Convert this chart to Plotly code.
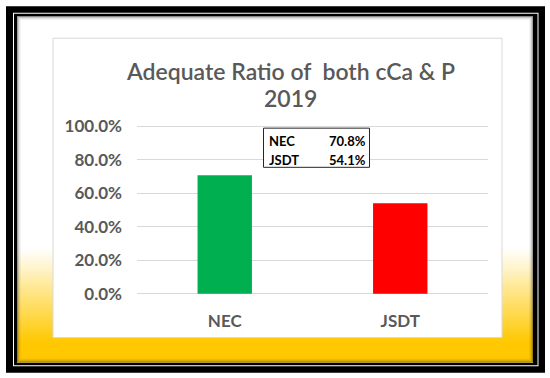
import plotly.graph_objects as go

# ---- data ----
categories = ["NEC", "JSDT"]
values = [0.708, 0.541]
bar_colors = ["#00B050", "#FF0000"]
title_lines = ["Adequate Ratio of  both cCa & P", "2019"]
y_ticks = [0, 0.2, 0.4, 0.6, 0.8, 1.0]

W, H = 550, 378
PL, PR = 137, 488
pad = 0.02
PPU = 166.67
PT = 126.7 - pad * PPU
PB = 293.3 + pad * PPU

def px(x):
    return (x - PL) / (PR - PL)
def py(y):
    return (PB - y) / (PB - PT)

FONT = "Lato"
GREY = "#595959"

fig = go.Figure()
fig.add_trace(go.Bar(
    x=categories, y=values, marker=dict(color=bar_colors, line=dict(width=0)),
    width=0.31, hoverinfo="skip"))

shapes = []
def rect(x0, y0, x1, y1, fill="rgba(0,0,0,0)", line=None, layer="below"):
    shapes.append(dict(type="rect", xref="paper", yref="paper", x0=px(x0), x1=px(x1), y0=py(y1), y1=py(y0),
                       fillcolor=fill, line=line if line else dict(width=0), layer=layer))

# outer frame
rect(6, 7, 545, 372, "black")
rect(13, 13.5, 538.5, 365.5, "white")
rect(14, 14.5, 537.5, 364.5, "black")
# interior white
rect(17, 17, 533, 362, "white")
# gradient white -> gold
top, bot = 248, 342
n = 47
c0 = (255, 255, 255)
c1 = (255, 200, 0)
for i in range(n):
    t = (i + 0.5) / n
    col = tuple(round(c0[k] + (c1[k] - c0[k]) * t) for k in range(3))
    y0 = top + (bot - top) * i / n
    y1 = top + (bot - top) * (i + 1) / n + 0.6
    rect(17, y0, 533, y1, "rgb(%d,%d,%d)" % col)
rect(17, bot, 533, 362, "rgb(255,200,0)")
# inner shadow near frame
for k, a in enumerate([0.45, 0.25, 0.12, 0.05]):
    rect(17.5 + k, 17.5 + k, 532.5 - k, 361.5 - k, line=dict(width=1, color="rgba(40,40,40,%.2f)" % a))
# inner chart box
rect(53, 39, 502, 337, "white", line=dict(width=1, color="#D9D9D9"))
# data table box
rect(263.5, 128.5, 369.5, 167.5, "white", line=dict(width=1, color="#262626"), layer="above")

annotations = []
for txt, yy in zip(title_lines, [72, 98]):
    annotations.append(dict(xref="paper", yref="paper", x=px(290), y=py(yy), text=txt, showarrow=False,
                            xanchor="center", yanchor="middle",
                            font=dict(family=FONT, size=23, color=GREY, weight=600)))
row_y = [141, 160]
for i, (c, v) in enumerate(zip(categories, values)):
    annotations.append(dict(xref="paper", yref="paper", x=px(267), y=py(row_y[i]), text="<b>%s</b>" % c,
                            showarrow=False, xanchor="left", yanchor="middle",
                            font=dict(family=FONT, size=13, color="black")))
    annotations.append(dict(xref="paper", yref="paper", x=px(368), y=py(row_y[i]), text="<b>%.1f%%</b>" % (v * 100),
                            showarrow=False, xanchor="right", yanchor="middle",
                            font=dict(family=FONT, size=13, color="black")))

fig.update_layout(
    width=W, height=H,
    margin=dict(l=PL, r=W - PR, t=PT, b=H - PB, pad=0),
    paper_bgcolor="white", plot_bgcolor="rgba(0,0,0,0)",
    showlegend=False, shapes=shapes, annotations=annotations,
    xaxis=dict(showgrid=False, showline=False, zeroline=False, ticks="", ticklabelstandoff=12,
               tickfont=dict(family=FONT, size=17, color=GREY, weight="bold")),
    yaxis=dict(range=[-pad, 1 + pad], tickvals=y_ticks, tickformat=".1%", showgrid=True,
               gridcolor="#D9D9D9", gridwidth=1, zeroline=False, showline=False, ticks="",
               ticklabelstandoff=14, tickfont=dict(family=FONT, size=17, color=GREY, weight="bold")),
)
fig.write_html("out.html", config={"displayModeBar": False},
               post_script="document.body.style.margin='0';")
